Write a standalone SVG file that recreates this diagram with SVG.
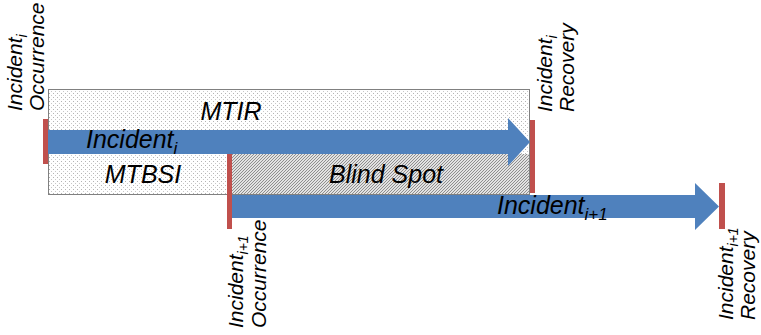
<svg xmlns="http://www.w3.org/2000/svg" width="761" height="335" viewBox="0 0 761 335">
<defs>
<pattern id="dots" width="4" height="4" patternUnits="userSpaceOnUse">
<rect width="4" height="4" fill="#ffffff"/>
<rect x="1" y="1" width="1" height="1" fill="#b4b4b4"/>
<rect x="3" y="3" width="1" height="1" fill="#c8c8c8"/>
</pattern>
<pattern id="hatch" width="3" height="3" patternUnits="userSpaceOnUse">
<rect width="3" height="3" fill="#e2e2e2"/>
<path d="M0,3 L3,0 M-1,1 L1,-1 M2,4 L4,2" stroke="#858585" stroke-width="0.9"/>
</pattern>
<style>
.lbl{font-family:"Liberation Sans",Arial,sans-serif;font-style:italic;fill:#000;}
.big{font-size:25px;}
.rot{font-size:21px;}
.sub{font-size:17px;}
.rsub{font-size:14px;}
.box{stroke:#808080;stroke-width:1;}
.bar{fill:#c0504d;}
.arrow{fill:#4f81bd;}
</style>
</defs>
<g id="mtir-box">
<rect class="box" x="48.5" y="89.5" width="481" height="105" fill="url(#dots)"/>
<text class="lbl big" x="231" y="120" text-anchor="middle">MTIR</text>
</g>
<g id="mtbsi">
<text class="lbl big" x="143" y="183" text-anchor="middle">MTBSI</text>
</g>
<g id="blind-spot">
<rect x="232" y="154" width="297" height="40" fill="url(#hatch)"/>
<text class="lbl big" x="386" y="183" text-anchor="middle">Blind Spot</text>
</g>
<g id="connectors">
<polygon class="arrow" points="48,130 508,130 508,118 530,142 508,166 508,154 48,154"/>
<polygon class="arrow" points="232,195 695,195 695,183 719,206.5 695,230 695,218 232,218"/>
</g>
<g id="incident-i">
<text class="lbl big" x="86" y="148">Incident<tspan class="sub" dy="6">i</tspan></text>
</g>
<g id="incident-i1">
<text class="lbl big" x="497" y="214">Incident<tspan class="sub" dy="6">i+1</tspan></text>
</g>
<g id="occ-i">
<rect class="bar" x="43" y="119" width="5" height="45"/>
<text class="lbl rot" transform="translate(22,111) rotate(-90)">Incident<tspan class="rsub" dy="5">i</tspan></text>
<text class="lbl rot" transform="translate(44,111) rotate(-90)">Occurrence</text>
</g>
<g id="rec-i">
<rect class="bar" x="530" y="120" width="5" height="73"/>
<text class="lbl rot" transform="translate(552,112) rotate(-90)">Incident<tspan class="rsub" dy="5">i</tspan></text>
<text class="lbl rot" transform="translate(574,112) rotate(-90)">Recovery</text>
</g>
<g id="occ-i1">
<rect class="bar" x="227" y="154" width="5" height="75"/>
<text class="lbl rot" transform="translate(243,328) rotate(-90)">Incident<tspan class="rsub" dy="5">i+1</tspan></text>
<text class="lbl rot" transform="translate(266,328) rotate(-90)">Occurrence</text>
</g>
<g id="rec-i1">
<rect class="bar" x="719" y="183" width="6" height="46"/>
<text class="lbl rot" transform="translate(733,320) rotate(-90)">Incident<tspan class="rsub" dy="5">i+1</tspan></text>
<text class="lbl rot" transform="translate(755,320) rotate(-90)">Recovery</text>
</g>
</svg>
